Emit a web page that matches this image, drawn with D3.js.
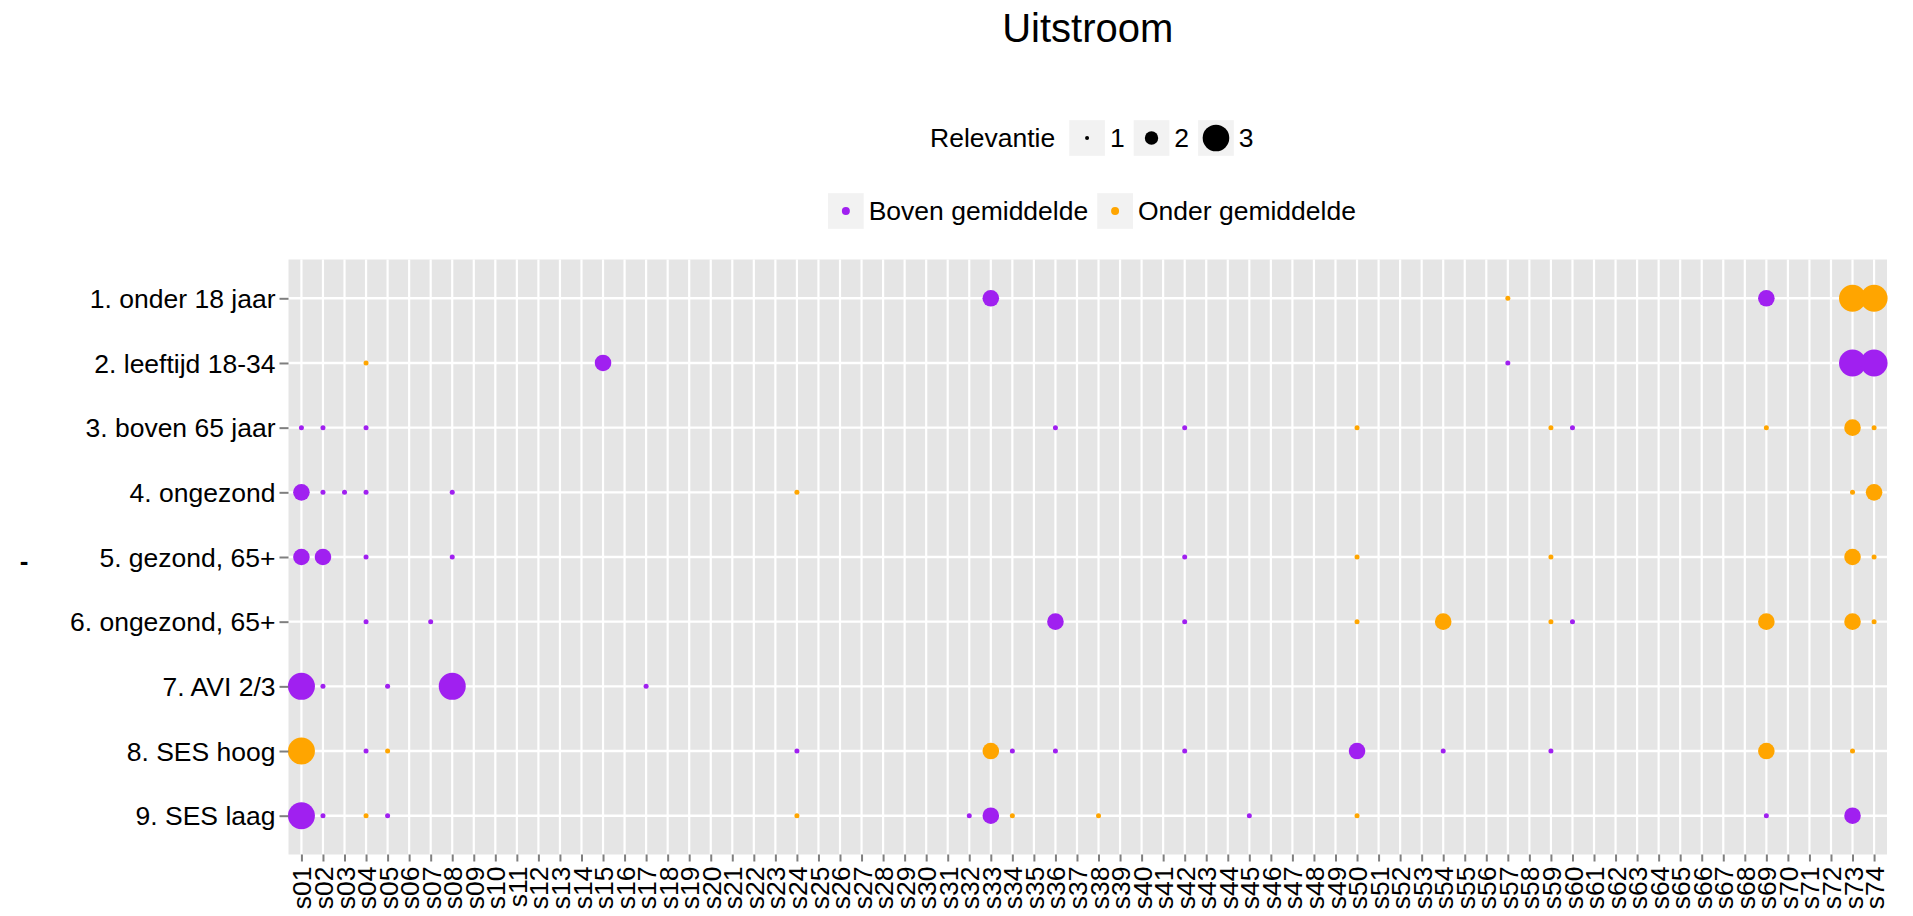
<!DOCTYPE html>
<html lang="nl">
<head>
  <meta charset="UTF-8">
  <title>Uitstroom</title>
  <script src="https://d3js.org/d3.v7.min.js"></script>
  <style>
    body {
      margin: 0;
      background: #fff;
    }
    svg {
      display: block;
      font-family: "Liberation Sans", Arial, Helvetica, sans-serif;
    }
    .tick-label {
      fill: #000;
      font-size: 26.5px;
    }
  </style>
</head>
<body>
  <svg width="1913" height="916"></svg>

  <script>
    // kolommen op de x-as
    const codes = [
      "s01","s02","s03","s04","s05","s06","s07","s08","s09","s10",
      "s11","s12","s13","s14","s15","s16","s17","s18","s19","s20",
      "s21","s22","s23","s24","s25","s26","s27","s28","s29","s30",
      "s31","s32","s33","s34","s35","s36","s37","s38","s39","s40",
      "s41","s42","s43","s44","s45","s46","s47","s48","s49","s50",
      "s51","s52","s53","s54","s55","s56","s57","s58","s59","s60",
      "s61","s62","s63","s64","s65","s66","s67","s68","s69","s70",
      "s71","s72","s73","s74"
    ];

    // groepen op de y-as (van boven naar beneden)
    const groups = [
      "1. onder 18 jaar",
      "2. leeftijd 18-34",
      "3. boven 65 jaar",
      "4. ongezond",
      "5. gezond, 65+",
      "6. ongezond, 65+",
      "7. AVI 2/3",
      "8. SES hoog",
      "9. SES laag"
    ];

    const relevanceLevels = [1, 2, 3];
    const directionLabels = ["Boven gemiddelde", "Onder gemiddelde"];

    // [groep-nummer, kolom, relevantie]
    const bovenPoints = [
      [1, "s33", 2], [1, "s69", 2],
      [2, "s15", 2], [2, "s57", 1], [2, "s73", 3], [2, "s74", 3],
      [3, "s01", 1], [3, "s02", 1], [3, "s04", 1], [3, "s36", 1], [3, "s42", 1], [3, "s60", 1],
      [4, "s01", 2], [4, "s02", 1], [4, "s03", 1], [4, "s04", 1], [4, "s08", 1],
      [5, "s01", 2], [5, "s02", 2], [5, "s04", 1], [5, "s08", 1], [5, "s42", 1],
      [6, "s04", 1], [6, "s07", 1], [6, "s36", 2], [6, "s42", 1], [6, "s60", 1],
      [7, "s01", 3], [7, "s02", 1], [7, "s05", 1], [7, "s08", 3], [7, "s17", 1],
      [8, "s04", 1], [8, "s24", 1], [8, "s34", 1], [8, "s36", 1], [8, "s42", 1], [8, "s50", 2],
      [8, "s54", 1], [8, "s59", 1],
      [9, "s01", 3], [9, "s02", 1], [9, "s05", 1], [9, "s32", 1], [9, "s33", 2], [9, "s45", 1],
      [9, "s69", 1], [9, "s73", 2]
    ];

    const onderPoints = [
      [1, "s57", 1], [1, "s73", 3], [1, "s74", 3],
      [2, "s04", 1],
      [3, "s50", 1], [3, "s59", 1], [3, "s69", 1], [3, "s73", 2], [3, "s74", 1],
      [4, "s24", 1], [4, "s73", 1], [4, "s74", 2],
      [5, "s50", 1], [5, "s59", 1], [5, "s73", 2], [5, "s74", 1],
      [6, "s50", 1], [6, "s54", 2], [6, "s59", 1], [6, "s69", 2], [6, "s73", 2], [6, "s74", 1],
      [8, "s01", 3], [8, "s05", 1], [8, "s33", 2], [8, "s69", 2], [8, "s73", 1],
      [9, "s04", 1], [9, "s24", 1], [9, "s34", 1], [9, "s38", 1], [9, "s50", 1]
    ];

    const purple = "#A020F0";
    const orange = "#FFA500";

    const points = [
      ...bovenPoints.map(p => ({group: groups[p[0] - 1], code: p[1], size: p[2], dir: directionLabels[0]})),
      ...onderPoints.map(p => ({group: groups[p[0] - 1], code: p[1], size: p[2], dir: directionLabels[1]}))
    ].sort((a, b) => codes.indexOf(a.code) - codes.indexOf(b.code));

    const svg = d3.select("svg");
    const panel = {left: 288.5, right: 1887, top: 259.5, bottom: 854.5};

    const x = d3.scalePoint()
      .domain(codes)
      .range([panel.left, panel.right])
      .padding(0.6);

    const y = d3.scalePoint()
      .domain(groups)
      .range([panel.top, panel.bottom])
      .padding(0.6);

    const r = d3.scaleLinear()
      .domain(relevanceLevels)
      .range([2.5, 8.3, 13.5]);

    const color = d3.scaleOrdinal()
      .domain(directionLabels)
      .range([purple, orange]);

    // paneel + rasterlijnen
    svg.append("rect")
      .attr("x", panel.left)
      .attr("y", panel.top)
      .attr("width", panel.right - panel.left)
      .attr("height", panel.bottom - panel.top)
      .attr("fill", "#E5E5E5");

    svg.append("g").selectAll("line")
      .data(codes)
      .enter().append("line")
        .attr("x1", d => x(d)).attr("x2", d => x(d))
        .attr("y1", panel.top).attr("y2", panel.bottom)
        .attr("stroke", "#fff")
        .attr("stroke-width", 2.2);

    svg.append("g").selectAll("line")
      .data(groups)
      .enter().append("line")
        .attr("x1", panel.left).attr("x2", panel.right)
        .attr("y1", d => y(d)).attr("y2", d => y(d))
        .attr("stroke", "#fff")
        .attr("stroke-width", 2.4);

    // punten
    svg.append("g").selectAll("circle")
      .data(points)
      .enter().append("circle")
        .attr("cx", d => x(d.code))
        .attr("cy", d => y(d.group))
        .attr("r", d => r(d.size))
        .attr("fill", d => color(d.dir));

    // assen
    const xAxis = svg.append("g")
      .attr("transform", `translate(0,${panel.bottom})`)
      .call(d3.axisBottom(x).tickSize(7));
    xAxis.select(".domain").remove();
    xAxis.selectAll(".tick line").attr("stroke", "#7F7F7F").attr("stroke-width", 2);
    xAxis.selectAll(".tick text")
      .attr("class", "tick-label")
      .attr("transform", "rotate(-90)")
      .attr("x", -12)
      .attr("y", 0)
      .attr("dy", "0.36em")
      .style("text-anchor", "end");

    const yAxis = svg.append("g")
      .attr("transform", `translate(${panel.left},0)`)
      .call(d3.axisLeft(y).tickSize(9).tickPadding(4));
    yAxis.select(".domain").remove();
    yAxis.selectAll(".tick line").attr("stroke", "#7F7F7F").attr("stroke-width", 2);
    yAxis.selectAll(".tick text")
      .attr("class", "tick-label")
      .attr("dy", "0.35em");
    svg.selectAll(".tick text").attr("font-size", null).attr("font-family", null);

    // y-as titel
    svg.append("text")
      .attr("x", 24)
      .attr("y", 561)
      .attr("dy", "0.35em")
      .attr("text-anchor", "middle")
      .attr("font-size", 26)
      .attr("font-weight", "bold")
      .text("-");

    // titel
    svg.append("text")
      .attr("x", (panel.left + panel.right) / 2)
      .attr("y", 42)
      .attr("text-anchor", "middle")
      .attr("font-size", 40)
      .text("Uitstroom");

    // legenda's
    const keySize = 35.7;

    function addLegend(startX, cy, title, items) {
      const g = svg.append("g");
      let cx = startX;
      if (title) {
        const t = g.append("text")
          .attr("x", cx).attr("y", cy).attr("dy", "0.35em")
          .attr("font-size", 26.5)
          .text(title);
        cx += t.node().getComputedTextLength() + 14;
      }
      items.forEach(item => {
        g.append("rect")
          .attr("x", cx).attr("y", cy - keySize / 2)
          .attr("width", keySize).attr("height", keySize)
          .attr("fill", "#F2F2F2");
        g.append("circle")
          .attr("cx", cx + keySize / 2).attr("cy", cy)
          .attr("r", item.r)
          .attr("fill", item.fill);
        cx += keySize + 5;
        const t = g.append("text")
          .attr("x", cx).attr("y", cy).attr("dy", "0.35em")
          .attr("font-size", 26.5)
          .text(item.label);
        cx += t.node().getComputedTextLength() + 9;
      });
    }

    const legendRadius = [2, 6.7, 13.3];
    addLegend(930, 138, "Relevantie",
      relevanceLevels.map((v, i) => ({label: String(v), r: legendRadius[i], fill: "#000"})));

    addLegend(828, 211, null,
      directionLabels.map(d => ({label: d, r: 4, fill: color(d)})));
  </script>
</body>
</html>
